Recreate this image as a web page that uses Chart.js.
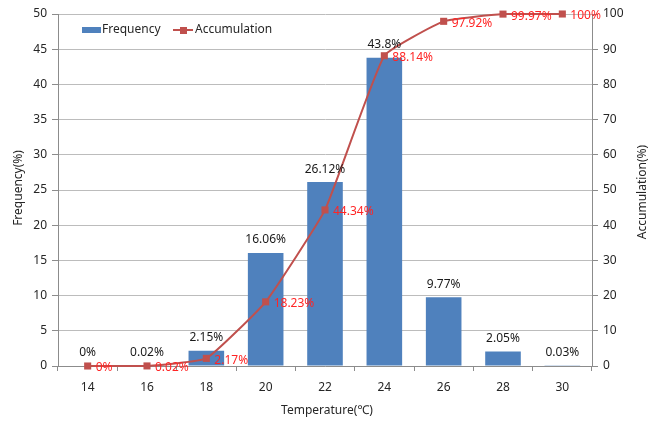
<!DOCTYPE html>
<html>
<head>
<meta charset="utf-8">
<script src="https://cdn.jsdelivr.net/npm/chart.js@4/dist/chart.umd.min.js"></script>
<style>
  html, body { margin: 0; padding: 0; background: #fff; }
  #wrap { width: 660px; height: 422px; }
</style>
</head>
<body>
<div id="wrap"><canvas id="c" width="660" height="422"></canvas></div>
<script>
// Temperature classes and their distribution
const temperatures = ['14', '16', '18', '20', '22', '24', '26', '28', '30'];
const frequency = [0, 0.02, 2.15, 16.06, 26.12, 43.8, 9.77, 2.05, 0.03];
const accumulation = [0, 0.02, 2.17, 18.23, 44.34, 88.14, 97.92, 99.97, 100];
const frequencyLabels = ['0%', '0.02%', '2.15%', '16.06%', '26.12%', '43.8%', '9.77%', '2.05%', '0.03%'];
const accumulationLabels = ['0%', '0.02%', '2.17%', '18.23%', '44.34%', '88.14%', '97.92%', '99.97%', '100%'];

const FONT = '"Noto Sans", "DejaVu Sans", sans-serif';
const TEXT = '#262626';
const AXIS = '#8C8C8C';
const BAR = '#4F81BD';
const LINE = '#C0504D';

// Value labels, axis titles and legend drawn on top of the chart
const overlay = {
  id: 'overlay',
  afterDatasetsDraw(chart) {
    const ctx = chart.ctx;
    ctx.save();
    ctx.font = '12px ' + FONT;
    ctx.textBaseline = 'middle';

    const barMeta = chart.getDatasetMeta(0);
    ctx.fillStyle = '#1A1A1A';
    ctx.textAlign = 'center';
    barMeta.data.forEach((el, i) => {
      ctx.fillText(frequencyLabels[i], el.x, el.y - 13);
    });

    const lineMeta = chart.getDatasetMeta(1);
    ctx.fillStyle = '#FF2525';
    ctx.textAlign = 'left';
    lineMeta.data.forEach((el, i) => {
      ctx.fillText(accumulationLabels[i], el.x + 8, el.y + 2);
    });

    // axis titles
    ctx.fillStyle = TEXT;
    ctx.textAlign = 'center';
    ctx.fillText('Temperature(\u2103)', 327, 411);
    ctx.save();
    ctx.translate(19, 188);
    ctx.rotate(-Math.PI / 2);
    ctx.fillText('Frequency(%)', 0, 0);
    ctx.restore();
    ctx.save();
    ctx.translate(643, 192);
    ctx.rotate(-Math.PI / 2);
    ctx.fillText('Accumulation(%)', 0, 0);
    ctx.restore();

    // legend
    ctx.textAlign = 'left';
    ctx.fillStyle = BAR;
    ctx.fillRect(82, 27, 19, 6);
    ctx.fillStyle = TEXT;
    ctx.fillText('Frequency', 102, 30);
    ctx.strokeStyle = LINE;
    ctx.lineWidth = 2;
    ctx.beginPath();
    ctx.moveTo(173, 30);
    ctx.lineTo(193, 30);
    ctx.stroke();
    ctx.fillStyle = LINE;
    ctx.fillRect(180, 27, 7, 7);
    ctx.fillStyle = TEXT;
    ctx.fillText('Accumulation', 195, 30);
    ctx.restore();
  }
};

new Chart(document.getElementById('c'), {
  data: {
    labels: temperatures,
    datasets: [
      {
        type: 'bar',
        label: 'Frequency',
        data: frequency,
        backgroundColor: BAR,
        barPercentage: 0.6,
        categoryPercentage: 1,
        yAxisID: 'y',
        order: 2
      },
      {
        type: 'line',
        label: 'Accumulation',
        data: accumulation,
        borderColor: LINE,
        backgroundColor: LINE,
        borderWidth: 2,
        pointStyle: 'rect',
        pointRadius: 5,
        pointBorderWidth: 0,
        tension: 0.12,
        clip: false,
        yAxisID: 'y1',
        order: 1
      }
    ]
  },
  options: {
    responsive: false,
    animation: false,
    events: [],
    layout: { padding: { top: 14, left: 0, right: 0, bottom: 0 } },
    plugins: { legend: { display: false }, tooltip: { enabled: false } },
    scales: {
      x: {
        offset: true,
        grid: { offset: true, drawOnChartArea: false, tickLength: 5, color: AXIS },
        border: { color: AXIS },
        ticks: { color: TEXT, font: { family: FONT, size: 12 }, padding: 9 },
        afterFit(scale) { scale.height = 56; }
      },
      y: {
        position: 'left',
        min: 0, max: 50,
        ticks: { stepSize: 5, color: TEXT, font: { family: FONT, size: 12 }, padding: 5 },
        grid: { color: '#BCBCBC', tickColor: AXIS, tickLength: 6 },
        border: { color: AXIS },
        afterFit(scale) { scale.width = 58; }
      },
      y1: {
        position: 'right',
        min: 0, max: 100,
        ticks: { stepSize: 10, color: TEXT, font: { family: FONT, size: 12 }, padding: 5 },
        grid: { drawOnChartArea: false, color: AXIS, tickLength: 6 },
        border: { color: AXIS },
        afterFit(scale) { scale.width = 68; }
      }
    }
  },
  plugins: [overlay]
});
</script>
</body>
</html>
